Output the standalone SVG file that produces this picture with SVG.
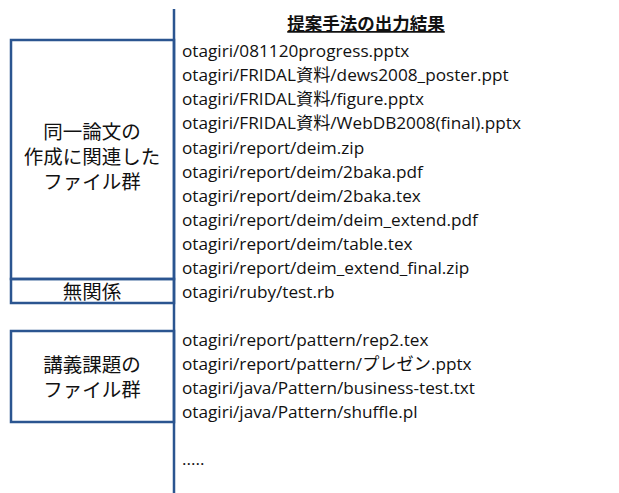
<svg xmlns="http://www.w3.org/2000/svg" width="619" height="493" viewBox="0 0 619 493">
<style>
.frame{fill:none;stroke:#2b5590;stroke-width:2.5}
.lbl{font-family:"Noto Sans CJK JP",sans-serif;font-size:19.5px;fill:#111;text-anchor:middle}
.item{font-family:"Open Sans","Noto Sans CJK JP",sans-serif;font-size:17.2px;fill:#111}
.title{font-family:"Noto Sans CJK JP",sans-serif;font-size:17.5px;font-weight:bold;fill:#111;text-anchor:middle;text-decoration:underline}
</style>
<rect width="619" height="493" fill="#fff"/>
<g id="connectors">
<line class="frame" x1="174" y1="9" x2="174" y2="493"/>
</g>
<g id="group-related">
<rect class="frame" x="11" y="40" width="163" height="239"/>
<text class="lbl" x="92" y="139">同一論文の</text>
<text class="lbl" x="92" y="164">作成に関連した</text>
<text class="lbl" x="92" y="189">ファイル群</text>
</g>
<g id="group-unrelated">
<rect class="frame" x="11" y="279" width="163" height="24"/>
<text class="lbl" x="92" y="298.5">無関係</text>
</g>
<g id="group-lecture">
<rect class="frame" x="11" y="331" width="163" height="91"/>
<text class="lbl" x="92" y="372">講義課題の</text>
<text class="lbl" x="92" y="397">ファイル群</text>
</g>
<g id="results">
<text class="title" x="366" y="30">提案手法の出力結果</text>
<text class="item" x="182" y="57">otagiri/081120progress.pptx</text>
<text class="item" x="182" y="81">otagiri/FRIDAL資料/dews2008_poster.ppt</text>
<text class="item" x="182" y="105">otagiri/FRIDAL資料/figure.pptx</text>
<text class="item" x="182" y="129">otagiri/FRIDAL資料/WebDB2008(final).pptx</text>
<text class="item" x="182" y="153.5">otagiri/report/deim.zip</text>
<text class="item" x="182" y="177.5">otagiri/report/deim/2baka.pdf</text>
<text class="item" x="182" y="201.5">otagiri/report/deim/2baka.tex</text>
<text class="item" x="182" y="225.5">otagiri/report/deim/deim_extend.pdf</text>
<text class="item" x="182" y="249.5">otagiri/report/deim/table.tex</text>
<text class="item" x="182" y="273.5">otagiri/report/deim_extend_final.zip</text>
<text class="item" x="182" y="297.5">otagiri/ruby/test.rb</text>
<text class="item" x="182" y="346">otagiri/report/pattern/rep2.tex</text>
<text class="item" x="182" y="370">otagiri/report/pattern/プレゼン.pptx</text>
<text class="item" x="182" y="394">otagiri/java/Pattern/business-test.txt</text>
<text class="item" x="182" y="418">otagiri/java/Pattern/shuffle.pl</text>
<text class="item" x="182" y="465">.....</text>
</g>
</svg>
